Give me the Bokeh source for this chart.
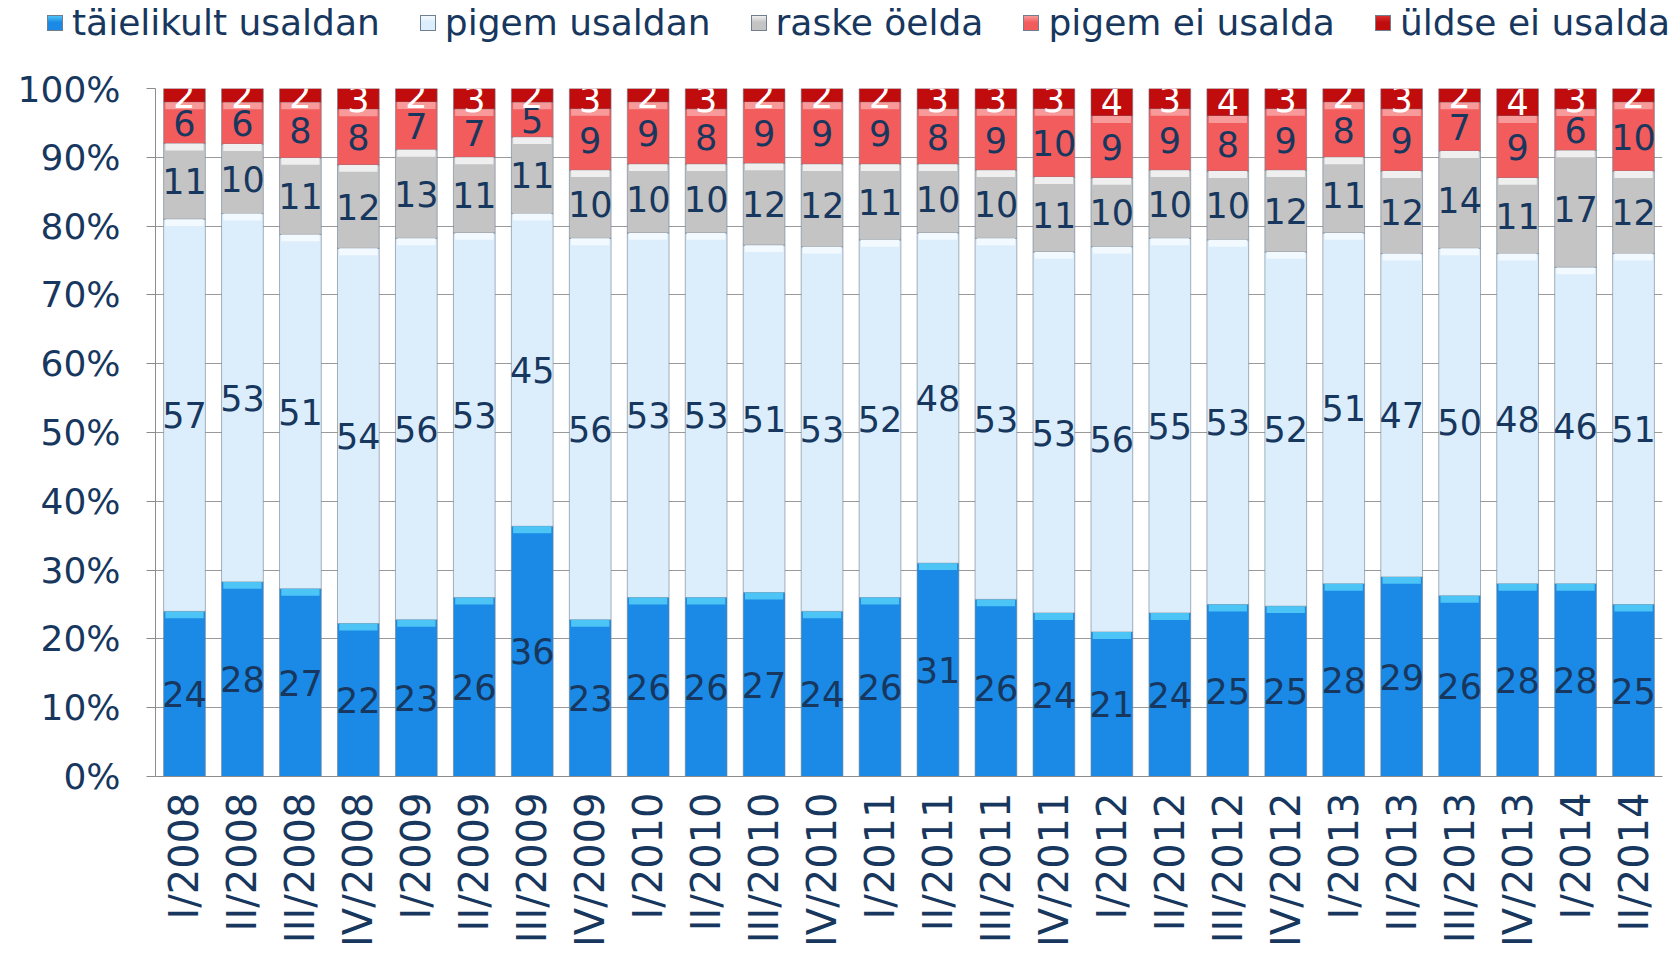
import math
from bokeh.plotting import figure
from bokeh.layouts import column
from bokeh.models import ColumnDataSource, FactorRange, FixedTicker, PrintfTickFormatter, Div
from bokeh.core.properties import value
from bokeh.embed import file_html
from bokeh.resources import INLINE

categories = ["I/2008", "II/2008", "III/2008", "IV/2008",
              "I/2009", "II/2009", "III/2009", "IV/2009",
              "I/2010", "II/2010", "III/2010", "IV/2010",
              "I/2011", "II/2011", "III/2011", "IV/2011",
              "I/2012", "II/2012", "III/2012", "IV/2012",
              "I/2013", "II/2013", "III/2013", "IV/2013",
              "I/2014", "II/2014"]

taielikult = [24, 28, 27, 22, 23, 26, 36, 23, 26, 26, 27, 24, 26, 31, 26, 24, 21, 24, 25, 25, 28, 29, 26, 28, 28, 25]
pigem_usaldan = [57, 53, 51, 54, 56, 53, 45, 56, 53, 53, 51, 53, 52, 48, 53, 53, 56, 55, 53, 52, 51, 47, 50, 48, 46, 51]
raske = [11, 10, 11, 12, 13, 11, 11, 10, 10, 10, 12, 12, 11, 10, 10, 11, 10, 10, 10, 12, 11, 12, 14, 11, 17, 12]
pigem_ei = [6, 6, 8, 8, 7, 7, 5, 9, 9, 8, 9, 9, 9, 8, 9, 10, 9, 9, 8, 9, 8, 9, 7, 9, 6, 10]
uldse_ei = [2, 2, 2, 3, 2, 3, 2, 3, 2, 3, 2, 2, 2, 3, 3, 3, 4, 3, 4, 3, 2, 3, 2, 4, 3, 2]

series_names = ["täielikult usaldan", "pigem usaldan", "raske öelda", "pigem ei usalda", "üldse ei usalda"]
series_vals = [taielikult, pigem_usaldan, raske, pigem_ei, uldse_ei]
colors = ["#1A8AE6", "#DCEEFC", "#C4C4C4", "#F25C5C", "#C00C0C"]
highlight = ["#4CC4F6", "#F2F9FF", "#EFEFEF", "#F89A9A", "#D83030"]
label_colors = ["#17375E", "#17375E", "#17375E", "#17375E", "#FFFFFF"]
tick_values = list(range(0, 101, 10))

keys = ["s0", "s1", "s2", "s3", "s4"]
data = {"cat": categories}
totals = [sum(v[i] for v in series_vals) for i in range(len(categories))]
for k, vals in zip(keys, series_vals):
    data[k] = [vals[i] / totals[i] * 100 for i in range(len(categories))]
src = ColumnDataSource(data)

TEXT = "#17375E"
FONT = "DejaVu Sans"
W = 1666

# ---- main chart ----
p = figure(x_range=FactorRange(*categories, range_padding=0), y_range=(0, 100),
           width=W, height=881, output_backend="svg", toolbar_location=None,
           min_border_left=155, min_border_right=4, min_border_top=20, min_border_bottom=171)
p.outline_line_color = None
p.background_fill_color = "white"

renderers = p.vbar_stack(keys, x="cat", width=0.72, source=src, color=colors,
                         line_color="#6F7F8F", line_alpha=0.6, line_width=1)

hx, hb, ht, hc = [], [], [], []
lx, ly, lt, lc = [], [], [], []
for i, c in enumerate(categories):
    base = 0.0
    for j, k in enumerate(keys):
        h = data[k][i]
        top = base + h
        if j < 4:
            hx.append(c); hb.append(top - min(1.0, h * 0.3)); ht.append(top); hc.append(highlight[j])
        lx.append(c)
        ly.append(base + h / 2)
        lt.append(str(series_vals[j][i]))
        lc.append(label_colors[j])
        base = top
hsrc = ColumnDataSource(dict(x=hx, b=hb, t=ht, c=hc))
p.vbar(x="x", bottom="b", top="t", width=0.66, source=hsrc, color="c", line_color=None)

lsrc = ColumnDataSource(dict(x=lx, y=ly, t=lt, c=lc))
p.text(x="x", y="y", text="t", source=lsrc, text_color="c", text_align="center",
       text_baseline="middle", text_font=value(FONT), text_font_size="35px")

p.yaxis.ticker = FixedTicker(ticks=tick_values)
p.yaxis.formatter = PrintfTickFormatter(format="%d%%")
p.yaxis.major_label_text_font_size = "36px"
p.yaxis.major_label_text_font = FONT
p.yaxis.major_label_text_color = TEXT
p.yaxis.major_label_standoff = 26
p.yaxis.major_tick_out = 9
p.yaxis.major_tick_in = 0
p.yaxis.minor_tick_out = 0
p.yaxis.minor_tick_in = 0
p.yaxis.axis_line_color = "#8C8C8C"
p.yaxis.major_tick_line_color = "#8C8C8C"

p.xaxis.major_label_orientation = math.pi / 2
p.xaxis.major_label_text_font_size = "40px"
p.xaxis.major_label_text_font = FONT
p.xaxis.major_label_text_color = TEXT
p.xaxis.major_label_standoff = 16
p.xaxis.major_tick_out = 0
p.xaxis.major_tick_in = 0
p.xaxis.axis_line_color = "#8C8C8C"

p.xgrid.grid_line_color = None
p.ygrid.ticker = FixedTicker(ticks=tick_values)
p.ygrid.grid_line_color = "#9A9A9A"
p.ygrid.grid_line_width = 1

# ---- legend strip (HTML text) ----
items_html = ""
for n, c, hl in zip(series_names, colors, highlight):
    items_html += (
        '<span style="display:inline-flex;align-items:center;margin-right:40px;">'
        f'<span style="display:inline-block;width:16px;height:16px;'
        f'background:linear-gradient(to bottom, {hl} 0%, {c} 45%, {c} 100%);'
        'border:1px solid #6F7F8F;margin-right:9px;"></span>'
        f'<span>{n}</span></span>'
    )
legend_html = (
    f'<div style="display:flex;align-items:center;height:38px;padding-top:8px;padding-left:47px;'
    f'font-family:\'{FONT}\';font-size:36px;color:{TEXT};white-space:nowrap;">'
    + items_html + '</div>'
)
lg = Div(text=legend_html, width=W, height=68, margin=0)

layout = column(lg, p, spacing=0)
open("out.html", "w").write(file_html(layout, INLINE))
